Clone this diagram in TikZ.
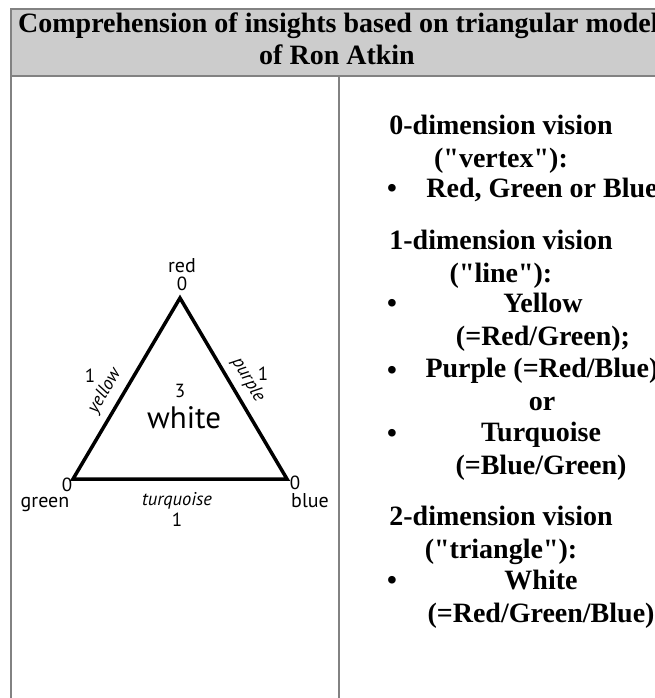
\documentclass[tikz,border=0pt]{standalone}
\usepackage{fontspec}
\setmainfont{Liberation Serif}
\newfontfamily\labelfont{PT Sans}
\usetikzlibrary{positioning,calc}
\definecolor{cellfill}{HTML}{CCCCCC}
\definecolor{cellrule}{HTML}{828282}
\newcommand\dq{\textquotedbl}
\tikzset{
  rule/.style={draw=cellrule,line width=2.5pt},
  headtext/.style={font=\bfseries\fontsize{28}{32}\selectfont,inner sep=0pt},
  % multi-line cells: base = baseline of the last line
  celltext/.style={font=\bfseries\fontsize{28}{33}\selectfont,align=center,
    inner sep=0pt,anchor=base},
  bulletmark/.style={font=\bfseries\fontsize{28}{33}\selectfont,inner sep=0pt,anchor=base},
  vlabel/.style={font=\labelfont\fontsize{20}{22}\selectfont,inner sep=0pt,anchor=base},
  nlabel/.style={font=\labelfont\fontsize{19}{21}\selectfont,inner sep=0pt,anchor=base},
  elabel/.style={font=\labelfont\itshape\fontsize{18.5}{20}\selectfont,inner sep=0pt},
  side/.style={line width=3.5pt,line join=miter}
}

\begin{document}
\begin{tikzpicture}[x=1pt,y=-1pt]
\useasboundingbox (0,0) rectangle (655,698);
\clip (0,0) rectangle (655,698);
% table frame
\fill[cellfill] (11,9) rectangle (660,75);
\draw[rule] (660,9) -- (11,9) -- (11,700);
\draw[rule] (11,76) -- (660,76);
\draw[rule] (339,76) -- (339,700);
% header
\node[headtext,anchor=base west] (title) at (18,33)
  {Comprehension of insights based on triangular model};
\node[headtext,anchor=base] (title2) at (337,65) {of Ron Atkin};

% triangle of Atkin
\coordinate (red) at (180,298);
\coordinate (green) at (73,479);
\coordinate (blue) at (287,479);
\draw[side] (red) -- (green) -- (blue) -- cycle;
\node[vlabel] (redname) at (182,272) {red};
\node[nlabel] (redzero) at (182,290) {0};
\node[nlabel] (leftone) at (90,382) {1};
\node[nlabel] (rightone) at (263,380) {1};
\node[elabel,rotate=59.4] (yellow) at (105,391) {yellow};
\node[elabel,rotate=-59.4] (purple) at (248,380) {purple};
\node[nlabel] (three) at (180,397) {3};
\node[vlabel,font=\labelfont\fontsize{31}{33}\selectfont] (white) at (184,428) {white};
\node[nlabel] (greenzero) at (67,491) {0};
\node[vlabel] (greenname) at (45,507) {green};
\node[elabel,anchor=base] (turq) at (177,505) {turquoise};
\node[nlabel] (bottomone) at (177,526) {1};
\node[nlabel] (bluezero) at (295,489) {0};
\node[vlabel] (bluename) at (310,507) {blue};

% right column
\node[celltext] (dimzero) at (501,167) {0-dimension vision\\(\dq vertex\dq):};
\node[bulletmark] (bzero) at (392,197) {•};
\node[celltext] (vertexitem) at (542,197) {Red, Green or Blue};
\node[celltext] (dimone) at (501,282) {1-dimension vision\\(\dq line\dq):};
\node[bulletmark] (bone) at (392,312) {•};
\node[celltext] (lineitema) at (543,345) {Yellow\\(=Red/Green);};
\node[bulletmark] (btwo) at (392,379) {•};
\node[celltext] (lineitemb) at (542,410) {Purple (=Red/Blue)\\or};
\node[bulletmark] (bthree) at (392,442) {•};
\node[celltext] (lineitemc) at (541,474) {Turquoise\\(=Blue/Green)};
\node[celltext] (dimtwo) at (501,558) {2-dimension vision\\(\dq triangle\dq):};
\node[bulletmark] (bfour) at (392,589) {•};
\node[celltext] (triitem) at (541,622) {White\\(=Red/Green/Blue)};
\end{tikzpicture}
\end{document}
